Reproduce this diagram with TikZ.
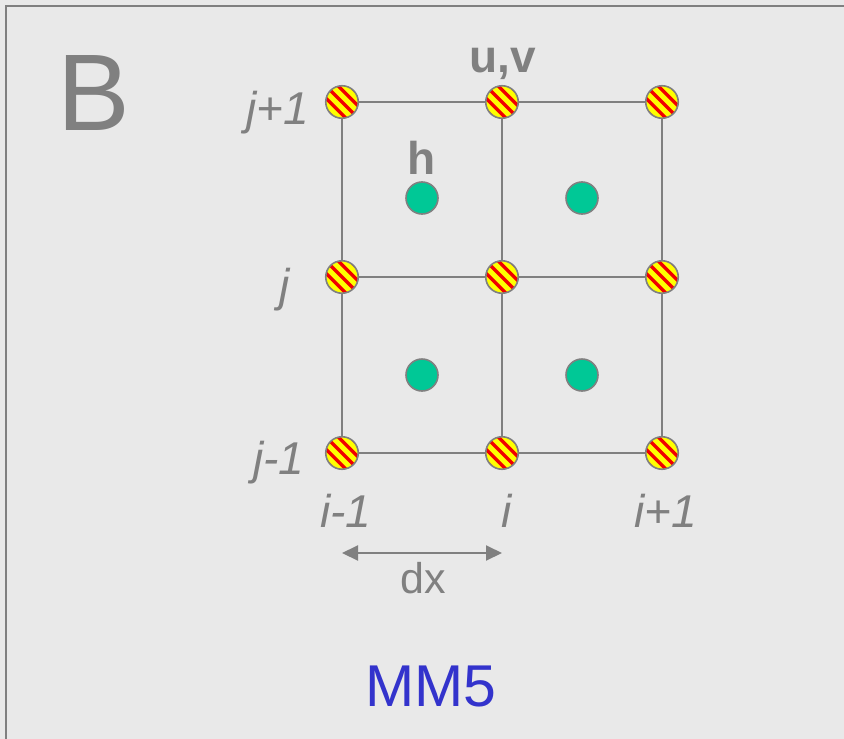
\documentclass[tikz,border=0pt]{standalone}
\usepackage{fontspec}
\setmainfont{Liberation Sans}
\usetikzlibrary{arrows.meta,calc}
\definecolor{bg}{HTML}{E9E9E9}
\definecolor{txtgray}{HTML}{808080}
\definecolor{linegray}{HTML}{808080}
\definecolor{hgreen}{HTML}{00C896}
\definecolor{mmblue}{HTML}{3333CC}
\definecolor{stred}{HTML}{F00000}
\definecolor{styellow}{HTML}{FFFF00}
\tikzset{
  uvpt/.style={circle, inner sep=0pt, minimum size=32.5pt, draw=linegray, line width=1.6pt, fill=styellow,
    path picture={
      \begin{scope}[shift={(path picture bounding box.center)}]
        \foreach \k in {-2,...,2}{
          \draw[stred, line width=3.4pt] ($(\k*6.1,-\k*6.1)+(-30,-30)$) -- ($(\k*6.1,-\k*6.1)+(30,30)$);
        }
      \end{scope}
    }},
  hpt/.style={circle, inner sep=0pt, minimum size=32pt, draw=linegray, line width=1.6pt, fill=hgreen},
  gridline/.style={draw=linegray, line width=2pt},
  lbl/.style={text=txtgray, font=\fontsize{46}{50}\selectfont\itshape, inner sep=0pt},
  blbl/.style={text=txtgray, font=\fontsize{46}{50}\selectfont\bfseries, inner sep=0pt},
}
\begin{document}
\begin{tikzpicture}[x=1pt,y=-1pt]
\useasboundingbox (0,0) rectangle (844,739);
\fill[bg] (0,0) rectangle (844,739);
\draw[txtgray, line width=2.5pt] (6,739) -- (6,6) -- (844,6);
% nodes
\foreach \c/\x in {0/342,1/502,2/662}{
  \foreach \r/\y in {0/102,1/277,2/453}{
    \node[uvpt] (p\c\r) at (\x,\y) {};
  }
}
\node[hpt] (h00) at (422,198) {};
\node[hpt] (h10) at (582,198) {};
\node[hpt] (h01) at (422,375) {};
\node[hpt] (h11) at (582,375) {};
% grid lines
\foreach \r in {0,1,2}{
  \draw[gridline] (p0\r) -- (p1\r);
  \draw[gridline] (p1\r) -- (p2\r);
}
\foreach \c in {0,1,2}{
  \draw[gridline] (p\c0) -- (p\c1);
  \draw[gridline] (p\c1) -- (p\c2);
}
% labels
\node[text=txtgray, font=\fontsize{109}{115}\selectfont, inner sep=0pt] (B) at (94,93) {B};
\node[blbl] (uv) at (503,64) {u,v};
\node[blbl] (hl) at (422,158) {h};
\node[lbl] (jp) at (278,113) {j+1};
\node[lbl] (j0) at (285,290) {j};
\node[lbl] (jm) at (279,463) {j-1};
\node[lbl] (im) at (346,511) {i-1};
\node[lbl] (i0) at (507,511) {i};
\node[lbl] (ip) at (666,511) {i+1};
% dx arrow
\coordinate (dxa) at (342,553);
\coordinate (dxb) at (502,553);
\draw[linegray, line width=2pt, {Triangle[length=16pt,width=15pt]}-{Triangle[length=16pt,width=15pt]}] (dxa) -- (dxb);
\node[text=txtgray, font=\fontsize{43}{46}\selectfont, inner sep=0pt] (dx) at (423,578) {dx};
\node[text=mmblue, font=\fontsize{59}{64}\selectfont, inner sep=0pt] (mm) at (431,686) {MM5};
\end{tikzpicture}
\end{document}
